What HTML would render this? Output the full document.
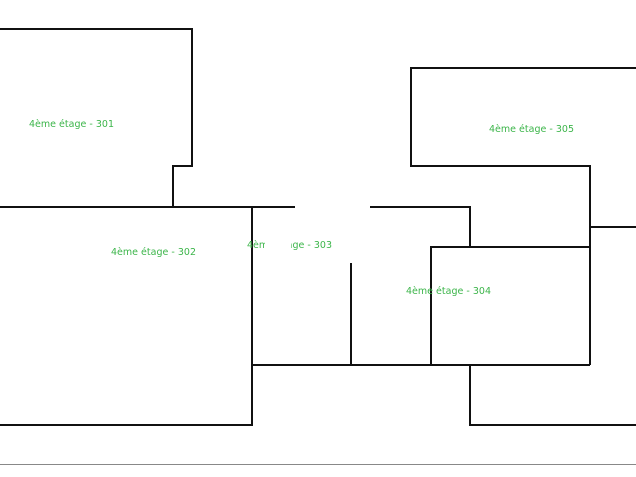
<!DOCTYPE html>
<html><head><meta charset="utf-8"><style>
html,body{margin:0;padding:0;background:#fff;}
svg{display:block}
text{font-family:"Segoe UI","DejaVu Sans","Liberation Sans",sans-serif;font-size:9.5px;fill:#3cb54a;}
</style></head><body>
<svg width="636" height="477" viewBox="0 0 636 477">
<g stroke="#111" stroke-width="2" fill="none">
<polyline points="0,29 192,29 192,166 173,166 173,207"/>
<line x1="0" y1="207" x2="295" y2="207"/>
<polyline points="370,207 470,207 470,247"/>
<polyline points="252,207 252,425 0,425"/>
<line x1="351" y1="263" x2="351" y2="366"/>
<line x1="252" y1="365" x2="590" y2="365"/>
<polyline points="431,365 431,247 590,247"/>
<polyline points="636,68 411,68 411,166 590,166 590,365"/>
<line x1="590" y1="227" x2="636" y2="227"/>
<polyline points="470,365 470,425 636,425"/>
</g>
<line x1="0" y1="464.5" x2="636" y2="464.5" stroke="#888" stroke-width="1"/>
<text x="29" y="127" textLength="85">4ème étage - 301</text>
<text x="111" y="255" textLength="85">4ème étage - 302</text>
<text x="247" y="248" textLength="85">4ème étage - 303</text>
<rect x="265" y="236" width="26" height="18" fill="#fff"/>
<text x="406" y="294" textLength="85">4ème étage - 304</text>
<text x="489" y="132" textLength="85">4ème étage - 305</text>
</svg>
</body></html>
